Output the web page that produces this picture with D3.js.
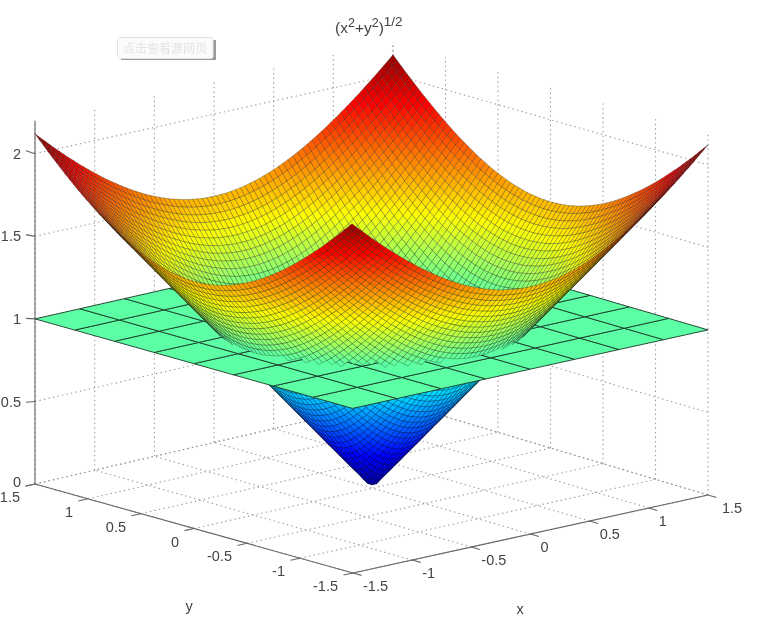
<!DOCTYPE html>
<html><head><meta charset="utf-8">
<script src="https://cdn.jsdelivr.net/npm/d3@7/dist/d3.min.js"></script>
<style>html,body{margin:0;padding:0;background:#fff;overflow:hidden}text{font-family:"Liberation Sans",Arial,sans-serif;fill:#444}</style>
</head><body><svg id="c" width="762" height="624"></svg>
<script>
const gridValues=[-1.5,-1.46,-1.42,-1.38,-1.34,-1.3,-1.26,-1.22,-1.18,-1.14,-1.1,-1.06,-1.02,-0.98,-0.94,-0.9,-0.86,-0.82,-0.78,-0.74,-0.7,-0.66,-0.62,-0.58,-0.54,-0.5,-0.46,-0.42,-0.38,-0.34,-0.3,-0.26,-0.22,-0.18,-0.14,-0.1,-0.06,-0.02,0.02,0.06,0.1,0.14,0.18,0.22,0.26,0.3,0.34,0.38,0.42,0.46,0.5,0.54,0.58,0.62,0.66,0.7,0.74,0.78,0.82,0.86,0.9,0.94,0.98,1.02,1.06,1.1,1.14,1.18,1.22,1.26,1.3,1.34,1.38,1.42,1.46,1.5];
// heights in thousandths for one symmetric octant of the surface: row = |larger coordinate|, column = |smaller coordinate|
const heightRows=[
[28],
[63,85],
[102,117,141],
[141,152,172,198],
[181,190,206,228,255],
[221,228,242,261,284,311],
[261,267,279,295,316,341,368],
[301,306,316,331,350,372,397,424],
[341,345,354,368,385,405,428,453,481],
[381,385,393,405,420,439,460,484,510,537],
[420,424,432,443,457,474,494,516,540,566,594],
[460,464,471,481,494,510,528,549,572,597,623,651],
[500,504,510,519,531,546,564,583,605,628,653,679,707],
[540,543,549,558,569,583,599,618,638,660,684,709,736,764],
[580,583,589,597,607,620,636,653,672,693,716,740,766,792,820],
[620,623,628,636,646,658,672,689,707,727,749,772,796,822,849,877],
[660,663,668,675,684,696,709,725,742,762,782,804,828,853,879,906,933],
[700,703,707,714,723,734,747,762,778,796,816,838,860,884,909,935,962,990],
[740,742,747,753,762,772,784,798,814,832,851,871,893,916,940,965,992,1019,1047],
[780,782,786,792,801,810,822,836,851,868,886,906,927,949,972,996,1022,1048,1075,1103],
[820,822,826,832,840,849,860,873,888,904,921,940,960,982,1004,1028,1053,1078,1105,1132,1160],
[860,862,866,871,879,888,898,911,925,940,957,975,995,1015,1037,1060,1084,1109,1135,1161,1188,1216],
[900,902,906,911,918,927,937,949,962,977,993,1011,1030,1050,1071,1093,1116,1140,1165,1191,1218,1245,1273],
[940,942,945,950,957,965,975,987,1000,1014,1030,1047,1065,1084,1105,1126,1149,1172,1196,1221,1247,1274,1301,1329],
[980,982,985,990,996,1004,1014,1025,1037,1051,1066,1083,1100,1119,1139,1160,1182,1204,1228,1253,1278,1304,1331,1358,1386],
[1020,1022,1025,1030,1036,1043,1053,1063,1075,1088,1103,1119,1136,1154,1173,1194,1215,1237,1260,1284,1309,1334,1360,1387,1414,1442],
[1060,1062,1065,1069,1075,1083,1091,1102,1113,1126,1140,1156,1172,1190,1208,1228,1249,1270,1293,1316,1340,1365,1391,1417,1444,1471,1499],
[1100,1102,1105,1109,1115,1122,1130,1140,1151,1164,1177,1192,1208,1225,1244,1263,1283,1304,1326,1348,1372,1396,1421,1447,1473,1500,1528,1556],
[1140,1142,1144,1149,1154,1161,1169,1179,1190,1202,1215,1229,1245,1261,1279,1298,1317,1338,1359,1381,1404,1428,1452,1478,1503,1530,1557,1584,1612],
[1180,1182,1184,1188,1194,1200,1208,1218,1228,1240,1253,1266,1282,1298,1315,1333,1352,1372,1393,1414,1437,1460,1484,1509,1534,1560,1586,1613,1641,1669],
[1220,1221,1224,1228,1233,1240,1247,1256,1266,1278,1290,1304,1318,1334,1351,1369,1387,1407,1427,1448,1470,1493,1516,1540,1565,1590,1616,1643,1670,1697,1725],
[1260,1261,1264,1268,1273,1279,1287,1295,1305,1316,1328,1341,1356,1371,1387,1404,1422,1441,1461,1482,1503,1526,1548,1572,1596,1621,1647,1673,1699,1726,1754,1782],
[1300,1301,1304,1308,1312,1318,1326,1334,1344,1354,1366,1379,1393,1408,1424,1440,1458,1476,1496,1516,1537,1559,1581,1604,1628,1652,1677,1703,1729,1756,1783,1810,1838],
[1340,1341,1344,1347,1352,1358,1365,1373,1382,1393,1404,1417,1430,1445,1460,1476,1494,1512,1531,1550,1571,1592,1614,1637,1660,1684,1709,1734,1759,1786,1812,1839,1867,1895],
[1380,1381,1384,1387,1392,1397,1404,1412,1421,1431,1443,1455,1468,1482,1497,1513,1530,1547,1566,1585,1605,1626,1648,1670,1693,1716,1740,1765,1790,1816,1842,1869,1896,1924,1952],
[1420,1421,1424,1427,1431,1437,1444,1451,1460,1470,1481,1493,1505,1519,1534,1549,1566,1583,1601,1620,1640,1660,1681,1703,1725,1748,1772,1796,1821,1846,1872,1898,1925,1952,1980,2008],
[1460,1461,1463,1467,1471,1476,1483,1491,1499,1509,1519,1531,1543,1557,1571,1586,1602,1619,1637,1655,1675,1694,1715,1736,1758,1781,1804,1828,1852,1877,1903,1929,1955,1982,2009,2037,2065],
[1500,1501,1503,1507,1511,1516,1522,1530,1538,1547,1558,1569,1581,1594,1608,1623,1639,1655,1673,1691,1710,1729,1749,1770,1792,1814,1837,1860,1884,1909,1933,1959,1985,2011,2038,2066,2093,2121]
];
const planeGrid=[-1.5,-1.125,-0.75,-0.375,0,0.375,0.75,1.125,1.5];
const planeHeight=1;
const xTicks=[-1.5,-1,-0.5,0,0.5,1,1.5];
const yTicks=[-1.5,-1,-0.5,0,0.5,1,1.5];
const zTicks=[0,0.5,1,1.5,2];
const zTop=2.2;
const colorStops=[0,.125,.375,.625,.875,1];
const colorRange=["#00008f","#0000ff","#00ffff","#ffff00","#ff0000","#800000"];

const svg=d3.select("#c");
const defs=svg.append("defs");
defs.append("filter").attr("id","soft").attr("x",0).attr("y",0).attr("width",1).attr("height",1)
 .attr("filterUnits","objectBoundingBox").append("feGaussianBlur").attr("stdDeviation",0.7);
const root=svg.append("g").attr("filter","url(#soft)");
root.append("rect").attr("width",762).attr("height",624).attr("fill","#fff");

const u=d3.scaleLinear([-1.5,1.5],[0,1]);
const w=d3.scaleLinear([0,2.12],[0,1]);
const floorC={f:[353,573],r:[708,495],l:[35,484],b:[393,401]};
const topC={f:[352,224],r:[708,145],l:[35,134],b:[393,55]};
function bil(c,a,b,k){return (1-a)*(1-b)*c.f[k]+a*(1-b)*c.r[k]+(1-a)*b*c.l[k]+a*b*c.b[k];}
function P(x,y,z){const a=u(x),b=u(y),t=w(z);return [0,1].map(k=>(1-t)*bil(floorC,a,b,k)+t*bil(topC,a,b,k));}
const color=d3.scaleLinear().domain(colorStops.map(d=>d*2.15)).range(colorRange).clamp(true);
const line=d3.line();

// walls and floor dotted grid
const grid=root.append("g").attr("fill","none").attr("stroke","#9a9a9a").attr("stroke-width",1.1).attr("stroke-dasharray","1.4 3.2");
function seg(g,a,b){g.append("path").attr("d",line([a,b]));}
yTicks.forEach(y=>{seg(grid,P(-1.5,y,0),P(1.5,y,0));seg(grid,P(1.5,y,0),P(1.5,y,zTop));});
xTicks.forEach(x=>{seg(grid,P(x,-1.5,0),P(x,1.5,0));seg(grid,P(x,1.5,0),P(x,1.5,zTop));});
zTicks.forEach(z=>{seg(grid,P(-1.5,1.5,z),P(1.5,1.5,z));seg(grid,P(1.5,1.5,z),P(1.5,-1.5,z));});

// axes
const axes=root.append("g").attr("fill","none").attr("stroke","#666").attr("stroke-width",1.1);
seg(axes,P(-1.5,1.5,0),P(-1.5,-1.5,0));
seg(axes,P(-1.5,-1.5,0),P(1.5,-1.5,0));
seg(axes,P(-1.5,1.5,0),P(-1.5,1.5,zTop));
yTicks.forEach(y=>seg(axes,P(-1.58,y,0),P(-1.5,y,0)));
xTicks.forEach(x=>seg(axes,P(x,-1.58,0),P(x,-1.5,0)));
const tickSlope=d3.scaleLinear([0,2],[2,-3]);
zTicks.forEach(z=>{const p=P(-1.5,1.5,z);seg(axes,[p[0]-9,p[1]+tickSlope(z)],p);});

// surface cells
const n=gridValues.length;
function heightAt(i,j){const a=Math.round((Math.abs(gridValues[i])-0.02)/0.04),b=Math.round((Math.abs(gridValues[j])-0.02)/0.04);return heightRows[Math.max(a,b)][Math.min(a,b)]/1000;}
const cells=[];
for(let i=0;i<n-1;i++)for(let j=0;j<n-1;j++){
 const cs=[[i,j],[i+1,j],[i+1,j+1],[i,j+1]].map(([a,b])=>[gridValues[a],gridValues[b],heightAt(a,b)]);
 const m=d3.mean(cs,c=>c[2]);
 const cx=d3.mean(cs,c=>c[0]),cy=d3.mean(cs,c=>c[1]);
 cells.push({pts:cs.map(c=>P(c[0],c[1],c[2])),z:m,depth:P(cx,cy,0)[1]});
}
cells.sort((a,b)=>a.depth-b.depth);
function drawCells(g,arr){g.selectAll("path").data(arr).join("path")
 .attr("d",d=>line(d.pts)+"Z").attr("fill",d=>color(d.z)).attr("stroke","#111").attr("stroke-opacity",.5).attr("stroke-width",.55);}
drawCells(root.append("g"),cells.filter(d=>d.z<planeHeight));

// plane
const planeCells=[];
for(let i=0;i<planeGrid.length-1;i++)for(let j=0;j<planeGrid.length-1;j++){
 planeCells.push([[i,j],[i+1,j],[i+1,j+1],[i,j+1]].map(([a,b])=>P(planeGrid[a],planeGrid[b],planeHeight)));
}
root.append("g").selectAll("path").data(planeCells).join("path").attr("d",d=>line(d)+"Z")
 .attr("fill",color(planeHeight)).attr("stroke","#1a3a2a").attr("stroke-width",.9);

drawCells(root.append("g"),cells.filter(d=>d.z>=planeHeight));

// labels
const fs=14.5;
const lab=root.append("g").attr("font-size",fs);
zTicks.forEach(z=>{const p=P(-1.5,1.5,z);lab.append("text").attr("x",21).attr("y",z===0?p[1]-2:p[1]).attr("dy",".35em").attr("text-anchor","end").text(z);});
yTicks.forEach(y=>{const p=P(-1.5,y,0);lab.append("text").attr("x",p[0]-15).attr("y",p[1]+13).attr("dy",".35em").attr("text-anchor","end").text(y);});
xTicks.forEach(x=>{const p=P(x,-1.5,0);lab.append("text").attr("x",p[0]+(x==1.5?14:10)).attr("y",p[1]+13).attr("dy",".35em").text(x);});
lab.append("text").attr("x",520).attr("y",614).attr("text-anchor","middle").text("x");
lab.append("text").attr("x",189).attr("y",611).attr("text-anchor","middle").text("y");
const title=lab.append("text").attr("x",335).attr("y",33);
[["(x",0,15.5],["2",-6,12.5],["+y",6,15.5],["2",-6,12.5],[")",6,15.5],["1/2",-7,13.5]].forEach(([t,dy,s])=>title.append("tspan").attr("dy",dy).attr("font-size",s).text(t));

// source-page button
const bx=root.append("g");
bx.append("rect").attr("x",121).attr("y",40).attr("width",95).attr("height",20).attr("fill","#9a9a9a");
bx.append("rect").attr("x",117.5).attr("y",37.5).attr("width",95.5).attr("height",21).attr("rx",2).attr("fill","#fbfbfd").attr("stroke","#e2e2e2");
bx.append("text").attr("x",165).attr("y",52.5).attr("text-anchor","middle").attr("font-size",12).style("font-family","'Noto Sans CJK SC'").style("fill","#e4e4e4").text("点击查看源网页");
</script></body></html>
